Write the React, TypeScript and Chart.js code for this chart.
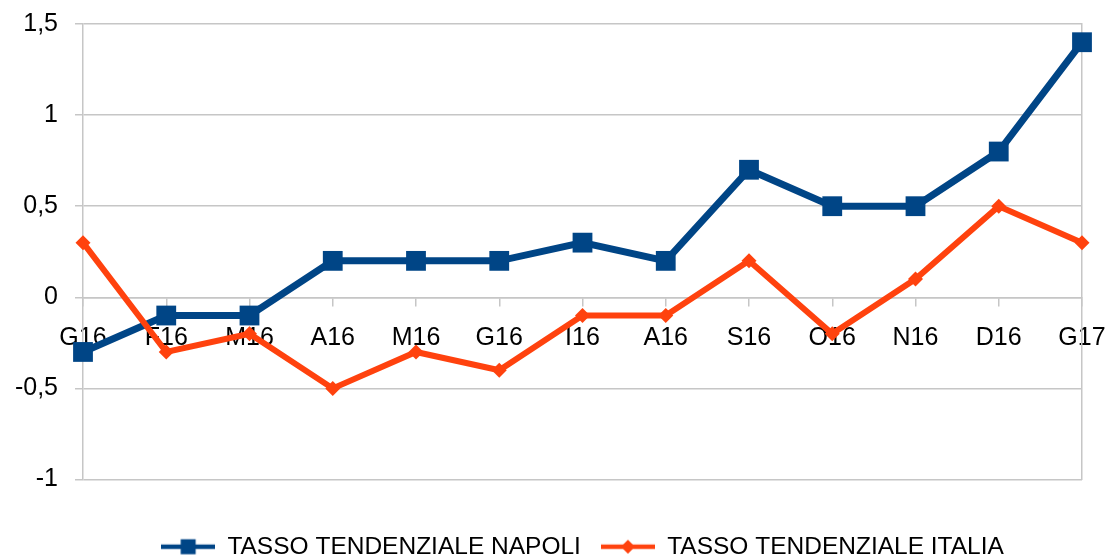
import React, { useEffect, useRef } from 'react';
import { Chart, registerables } from 'chart.js';

Chart.register(...registerables);

const categories = ['G16', 'F16', 'M16', 'A16', 'M16', 'G16', 'I16', 'A16', 'S16', 'O16', 'N16', 'D16', 'G17'];
const napoli = [-0.3, -0.1, -0.1, 0.2, 0.2, 0.2, 0.3, 0.2, 0.7, 0.5, 0.5, 0.8, 1.4];
const italia = [0.3, -0.3, -0.2, -0.5, -0.3, -0.4, -0.1, -0.1, 0.2, -0.2, 0.1, 0.5, 0.3];
const seriesNames = ['TASSO TENDENZIALE NAPOLI', 'TASSO TENDENZIALE ITALIA'];
const yTicks = { min: -1, max: 1.5, step: 0.5 };

const BLUE = '#004586';
const ORANGE = '#ff420e';
const GRID = '#c6c6c6';
const FONT = '"Liberation Sans", Arial, sans-serif';

function legendIcon(color: string, kind: 'rect' | 'diamond'): HTMLCanvasElement {
  const c = document.createElement('canvas');
  c.width = 54;
  c.height = 22;
  const g = c.getContext('2d')!;
  g.strokeStyle = color;
  g.fillStyle = color;
  g.lineWidth = 4.5;
  g.beginPath();
  g.moveTo(0, 11);
  g.lineTo(54, 11);
  g.stroke();
  g.beginPath();
  if (kind === 'rect') {
    g.rect(27 - 7.5, 11 - 7.5, 15, 15);
  } else {
    g.moveTo(27, 4);
    g.lineTo(34, 11);
    g.lineTo(27, 18);
    g.lineTo(20, 11);
    g.closePath();
  }
  g.fill();
  return c;
}

const zeroPad = (s: any) => {
  s.paddingTop = 0;
  s.paddingBottom = 0;
  s.paddingLeft = 0;
  s.paddingRight = 0;
};

export default function App() {
  const ref = useRef<HTMLCanvasElement | null>(null);

  useEffect(() => {
    document.body.style.margin = '0';
    const canvas = ref.current;
    if (!canvas) return;
    const icons = [legendIcon(BLUE, 'rect'), legendIcon(ORANGE, 'diamond')];
    const chart = new Chart(canvas, {
      type: 'line',
      data: {
        labels: categories,
        datasets: [
          {
            label: seriesNames[1],
            data: italia,
            borderColor: ORANGE,
            backgroundColor: ORANGE,
            borderWidth: 6,
            pointStyle: 'rectRot',
            pointRadius: 7.5,
            pointHoverRadius: 7.5,
            pointBorderWidth: 0,
            pointBackgroundColor: ORANGE,
            tension: 0,
            clip: false,
          },
          {
            label: seriesNames[0],
            data: napoli,
            borderColor: BLUE,
            backgroundColor: BLUE,
            borderWidth: 7,
            pointStyle: 'rect',
            pointRadius: 14,
            pointHoverRadius: 14,
            pointBorderWidth: 0,
            pointBackgroundColor: BLUE,
            tension: 0,
            clip: false,
          },
        ],
      },
      options: {
        responsive: false,
        animation: false,
        layout: { padding: { top: 24, right: 28, bottom: -13, left: 0 } },
        plugins: {
          tooltip: { enabled: false },
          legend: {
            position: 'bottom',
            fullSize: false,
            title: { display: true, text: '', font: { size: 10 }, padding: { top: 13, bottom: 10 } },
            labels: {
              usePointStyle: true,
              pointStyleWidth: 54,
              padding: 20,
              color: '#000',
              font: { family: FONT, size: 24.5 },
              generateLabels: () => [
                { text: seriesNames[0], pointStyle: icons[0], fillStyle: BLUE, strokeStyle: BLUE, lineWidth: 0, hidden: false, datasetIndex: 1, fontColor: '#000' },
                { text: seriesNames[1], pointStyle: icons[1], fillStyle: ORANGE, strokeStyle: ORANGE, lineWidth: 0, hidden: false, datasetIndex: 0, fontColor: '#000' },
              ] as any,
            },
          },
        },
        scales: {
          x: {
            position: { y: 0 } as any,
            offset: false,
            grid: { drawOnChartArea: false, drawTicks: true, tickLength: 8, color: GRID, lineWidth: 1.5 },
            border: { display: true, color: GRID, width: 1.5 },
            ticks: { color: '#000', font: { family: FONT, size: 25 }, padding: 18, maxRotation: 0, autoSkip: false },
            afterFit: zeroPad,
          },
          y: {
            min: yTicks.min,
            max: yTicks.max,
            grid: { color: GRID, tickLength: 8, lineWidth: 1.5 },
            border: { color: GRID, width: 1.5 },
            ticks: {
              stepSize: yTicks.step,
              color: '#000',
              padding: 17,
              font: { family: FONT, size: 25 },
              callback: (v: any) => String(v).replace('.', ','),
            },
            afterFit: (s: any) => { s.width = 83; zeroPad(s); },
          },
          yR: {
            position: 'right',
            min: 0,
            max: 1,
            grid: { drawOnChartArea: false, drawTicks: false },
            border: { color: GRID, width: 1.5 },
            ticks: { display: false },
            afterFit: (s: any) => { s.width = 0; zeroPad(s); },
          },
        },
      },
    });
    return () => chart.destroy();
  }, []);

  return (
    <div style={{ width: 1110, height: 556, background: '#fff' }}>
      <canvas ref={ref} width={1110} height={556} />
    </div>
  );
}
